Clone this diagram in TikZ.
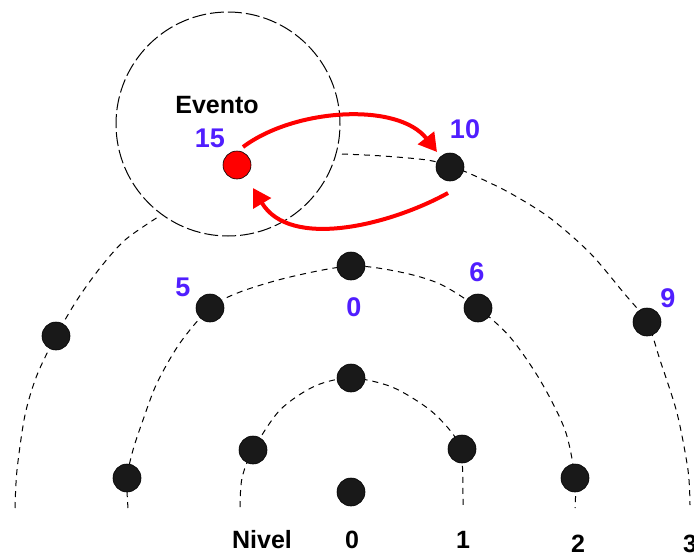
\documentclass[tikz,border=0pt]{standalone}
\usepackage{fontspec}
\setmainfont{Liberation Sans}
\usetikzlibrary{arrows.meta,calc}
\definecolor{numblue}{RGB}{80,30,255}
\definecolor{dotgray}{RGB}{25,25,25}
\begin{document}
\begin{tikzpicture}[x=1pt,y=-1pt,
  dot/.style={circle,fill=dotgray,draw=black,line width=0.6pt,minimum size=28pt,inner sep=0pt},
  reddot/.style={dot,fill=red},
  lvl/.style={dash pattern=on 6pt off 5pt, line width=1pt},
  evcirc/.style={circle,draw,dash pattern=on 14pt off 4pt, line width=1pt,minimum size=224pt,inner sep=0pt},
  num/.style={text=numblue, font=\fontsize{27}{27}\selectfont\bfseries, inner sep=0pt},
  lab/.style={font=\fontsize{25}{25}\selectfont\bfseries, inner sep=0pt},
  redarrow/.style={draw=red, line width=4pt, -{Triangle[length=18pt,width=20pt]}}
]
\useasboundingbox (0,0) rectangle (694,557);
% level arcs
\draw[lvl] plot[smooth] coordinates {(240,507) (242,478) (253,450) (280,410) (315,386) (351,378) (392,387) (430,410) (455,437) (462,460) (463,505)};
\draw[lvl] plot[smooth] coordinates {(128,508) (127,478) (133,450) (143,420) (157,383) (180,343) (210,308) (240,292) (290,277) (351,266) (400,272) (440,284) (478,308) (510,337) (540,380) (565,430) (575,478) (575,508)};
\draw[lvl] plot[smooth] coordinates {(15,508) (17,470) (25,415) (37,375) (56,336) (77,300) (100,268) (125,240) (158,217)};
\draw[lvl] plot[smooth] coordinates {(342,154) (383,156) (427,160) (450,166) (473,175) (510,193) (550,218) (590,253) (623,292) (647,322) (660,360) (677,413) (688,470) (690,505)};
% event circle
\node[evcirc] (evc) at (228,124) {};
% dots
\node[dot] (a0) at (351,492) {};
\node[dot] (b0) at (351,378) {};
\node[dot] (b1) at (253,450) {};
\node[dot] (b2) at (462,449) {};
\node[dot] (c0) at (351,266) {};
\node[dot] (c1) at (210,308) {};
\node[dot] (c2) at (478,308) {};
\node[dot] (c3) at (127,478) {};
\node[dot] (c4) at (575,478) {};
\node[dot] (d1) at (56,336) {};
\node[dot] (d2) at (450,167) {};
\node[dot] (d3) at (647,322) {};
\node[reddot] (ev) at (237,165) {};
% labels
\node[lab] (tev) at (217,105) {Evento};
\node[num] (t15) at (210,138) {15};
\node[num] (t10) at (465,129) {10};
\node[num] (t5) at (183,287) {5};
\node[num] (t0) at (354,307) {0};
\node[num] (t6) at (477,272) {6};
\node[num] (t9) at (668,298) {9};
\node[lab,anchor=base] (tn) at (262,548) {Nivel};
\node[lab,anchor=base] (l0) at (352,548) {0};
\node[lab,anchor=base] (l1) at (463,548) {1};
\node[lab,anchor=base] (l2) at (578,552) {2};
\node[lab,anchor=base] (l3) at (690,552) {3};
% red arrows
\draw[redarrow] ($(ev)+(6,-18)$) .. controls (295,108) and (398,102) .. ($(d2)+(-13,-15)$);
\draw[redarrow] ($(d2)+(-2,26)$) .. controls (390,225) and (290,250) .. ($(ev)+(16,23)$);
\end{tikzpicture}
\end{document}
